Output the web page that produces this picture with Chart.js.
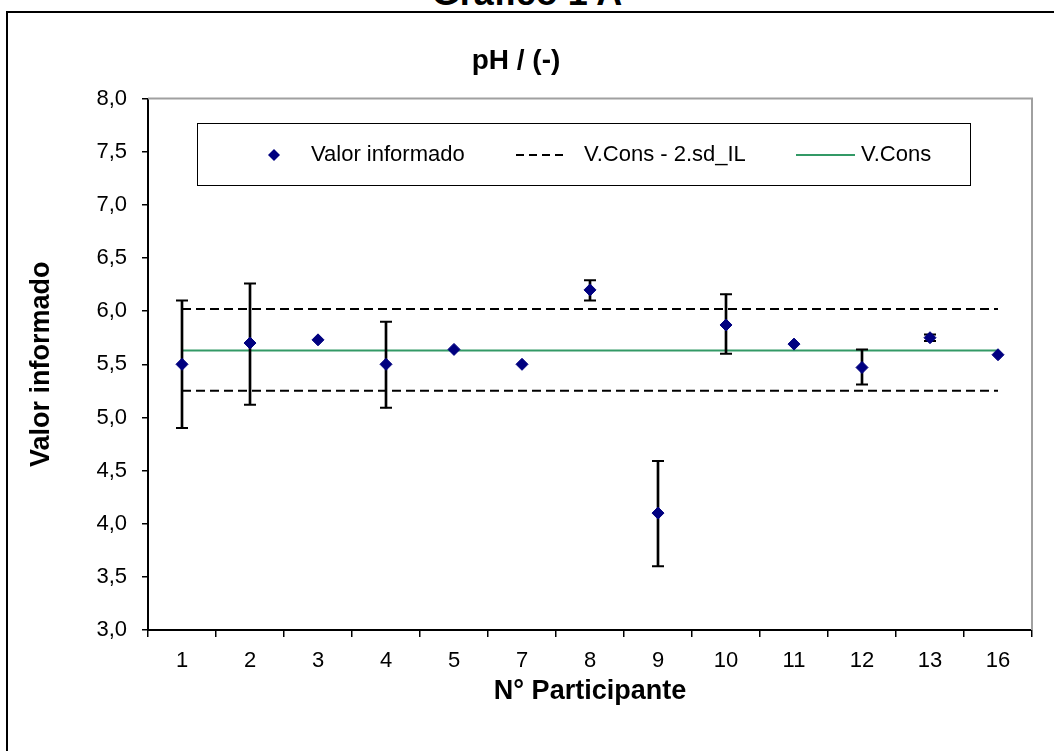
<!DOCTYPE html>
<html>
<head>
<meta charset="utf-8">
<script src="https://cdn.jsdelivr.net/npm/chart.js@4.4.1/dist/chart.umd.min.js"></script>
<style>
html, body { margin: 0; padding: 0; background: #fff; overflow: hidden; }
#wrap { position: relative; width: 1054px; height: 751px; }
#frame { position: absolute; left: 6px; top: 11px; width: 1100px; height: 800px; border: 2px solid #000; }
#mainTitle { position: absolute; left: 0; width: 1054px; top: -25px; text-align: center;
  font: bold 36px 'Liberation Sans', Arial, sans-serif; line-height: 36px; }
canvas { position: absolute; left: 0; top: 0; }
</style>
</head>
<body>
<div id="wrap">
  <div id="frame"></div>
  <div id="mainTitle">Gráfico 1 A</div>
  <canvas id="grafico" width="1054" height="751"></canvas>
</div>
<script>
// pH / (-) — valores informados por participante
const participantes = ['1', '2', '3', '4', '5', '7', '8', '9', '10', '11', '12', '13', '16'];
const valorInformado = [5.50, 5.70, 5.73, 5.50, 5.64, 5.50, 6.20, 4.10, 5.87, 5.69, 5.47, 5.75, 5.59];
const errInferior = [4.90, 5.12, null, 5.09, null, null, 6.10, 3.60, 5.60, null, 5.31, 5.72, null];
const errSuperior = [6.10, 6.26, null, 5.90, null, null, 6.29, 4.59, 6.16, null, 5.64, 5.78, null];
const vCons = [5.63, 5.63, 5.63, 5.63, 5.63, 5.63, 5.63, 5.63, 5.63, 5.63, 5.63, 5.63, 5.63];
const vConsMenos = [5.25, 5.25, 5.25, 5.25, 5.25, 5.25, 5.25, 5.25, 5.25, 5.25, 5.25, 5.25, 5.25];
const vConsMas = [6.02, 6.02, 6.02, 6.02, 6.02, 6.02, 6.02, 6.02, 6.02, 6.02, 6.02, 6.02, 6.02];
const yMin = 3.0, yMax = 8.0, yPaso = 0.5;

const FONT = "'Liberation Sans', Arial, sans-serif";
const AZUL = '#000080';
const VERDE = '#339966';

// error bar stems as floating bars
const barrasError = errInferior.map((lo, i) => lo == null ? null : [lo, errSuperior[i]]);

// legend box drawn inside the plot area
const leyendaPlugin = {
    id: 'leyendaInterna',
    afterDraw(chart) {
        const ctx = chart.ctx;
        ctx.save();
        ctx.fillStyle = '#fff';
        ctx.fillRect(197, 123, 774, 63);
        ctx.strokeStyle = '#000';
        ctx.lineWidth = 1;
        ctx.strokeRect(197.5, 123.5, 773, 62);
        const y = 155;
        ctx.font = '22px ' + FONT;
        ctx.textBaseline = 'middle';
        // diamond
        ctx.fillStyle = AZUL;
        ctx.beginPath();
        ctx.moveTo(274, y - 6); ctx.lineTo(280, y); ctx.lineTo(274, y + 6); ctx.lineTo(268, y);
        ctx.closePath(); ctx.fill();
        ctx.fillStyle = '#000';
        ctx.fillText('Valor informado', 311, y);
        // dashed
        ctx.strokeStyle = '#000'; ctx.lineWidth = 2; ctx.setLineDash([8, 5]);
        ctx.beginPath(); ctx.moveTo(516, y); ctx.lineTo(566, y); ctx.stroke();
        ctx.setLineDash([]);
        ctx.fillText('V.Cons - 2.sd_IL', 584, y);
        // solid green
        ctx.strokeStyle = VERDE;
        ctx.beginPath(); ctx.moveTo(796, y); ctx.lineTo(855, y); ctx.stroke();
        ctx.fillText('V.Cons', 861, y);
        ctx.restore();
    }
};

// gray top/right edge of the plot area
const bordePlugin = {
    id: 'bordeArea',
    beforeDatasetsDraw(chart) {
        const { ctx, chartArea: a } = chart;
        ctx.save();
        ctx.strokeStyle = '#a0a0a0';
        ctx.lineWidth = 2;
        ctx.beginPath();
        ctx.moveTo(a.left, a.top);
        ctx.lineTo(a.right, a.top);
        ctx.lineTo(a.right, a.bottom);
        ctx.stroke();
        ctx.restore();
    }
};

new Chart(document.getElementById('grafico'), {
    type: 'bar',
    data: {
        labels: participantes,
        datasets: [
            {
                type: 'line', label: 'Valor informado', data: valorInformado, order: 0,
                showLine: false, pointStyle: 'rectRot', pointRadius: 6, pointHoverRadius: 6,
                pointBackgroundColor: AZUL, pointBorderColor: AZUL, pointBorderWidth: 1
            },
            {
                type: 'line', data: errInferior, order: 1, showLine: false,
                pointStyle: 'line', pointRadius: 6, pointBorderColor: '#000', pointBorderWidth: 2
            },
            {
                type: 'line', data: errSuperior, order: 1, showLine: false,
                pointStyle: 'line', pointRadius: 6, pointBorderColor: '#000', pointBorderWidth: 2
            },
            {
                type: 'bar', data: barrasError, order: 2,
                backgroundColor: '#000', barThickness: 2, borderWidth: 0
            },
            {
                type: 'line', label: 'V.Cons - 2.sd_IL', data: vConsMenos, order: 3,
                borderColor: '#000', borderWidth: 2, borderDash: [9, 5], pointRadius: 0, fill: false
            },
            {
                type: 'line', data: vConsMas, order: 3,
                borderColor: '#000', borderWidth: 2, borderDash: [9, 5], pointRadius: 0, fill: false
            },
            {
                type: 'line', label: 'V.Cons', data: vCons, order: 4,
                borderColor: VERDE, borderWidth: 2, pointRadius: 0, fill: false
            }
        ]
    },
    options: {
        responsive: false,
        animation: false,
        layout: { padding: { left: 0, right: 22, top: 0, bottom: 0 } },
        plugins: {
            legend: { display: false },
            tooltip: { enabled: false },
            title: {
                display: true, text: 'pH / (-)', color: '#000',
                font: { family: FONT, size: 28, weight: 'bold', lineHeight: 1.2 },
                padding: { top: 44, bottom: 21 }
            }
        },
        scales: {
            x: {
                type: 'category', offset: true,
                grid: { offset: true, drawOnChartArea: false, tickLength: 7, color: '#000', lineWidth: 1.5 },
                border: { color: '#000', width: 2 },
                ticks: { color: '#000', padding: 11, font: { family: FONT, size: 22 } },
                title: {
                    display: true, text: 'N° Participante', color: '#000',
                    font: { family: FONT, size: 27, weight: 'bold', lineHeight: 1.2 },
                    padding: { top: 0, bottom: 43 }
                },
                afterFit(s) { s.height = 121; }
            },
            y: {
                min: yMin, max: yMax,
                grid: { drawOnChartArea: false, tickLength: 6, color: '#000', lineWidth: 1.5 },
                border: { color: '#000', width: 2 },
                ticks: {
                    stepSize: yPaso, color: '#000', padding: 15, font: { family: FONT, size: 22 },
                    callback: v => v.toFixed(1).replace('.', ',')
                },
                title: {
                    display: true, text: 'Valor informado', color: '#000',
                    font: { family: FONT, size: 27, weight: 'bold', lineHeight: 1.2 },
                    padding: { top: 25, bottom: 0 }
                },
                afterFit(s) { s.width = 148; }
            }
        }
    },
    plugins: [bordePlugin, leyendaPlugin]
});
</script>
</body>
</html>
